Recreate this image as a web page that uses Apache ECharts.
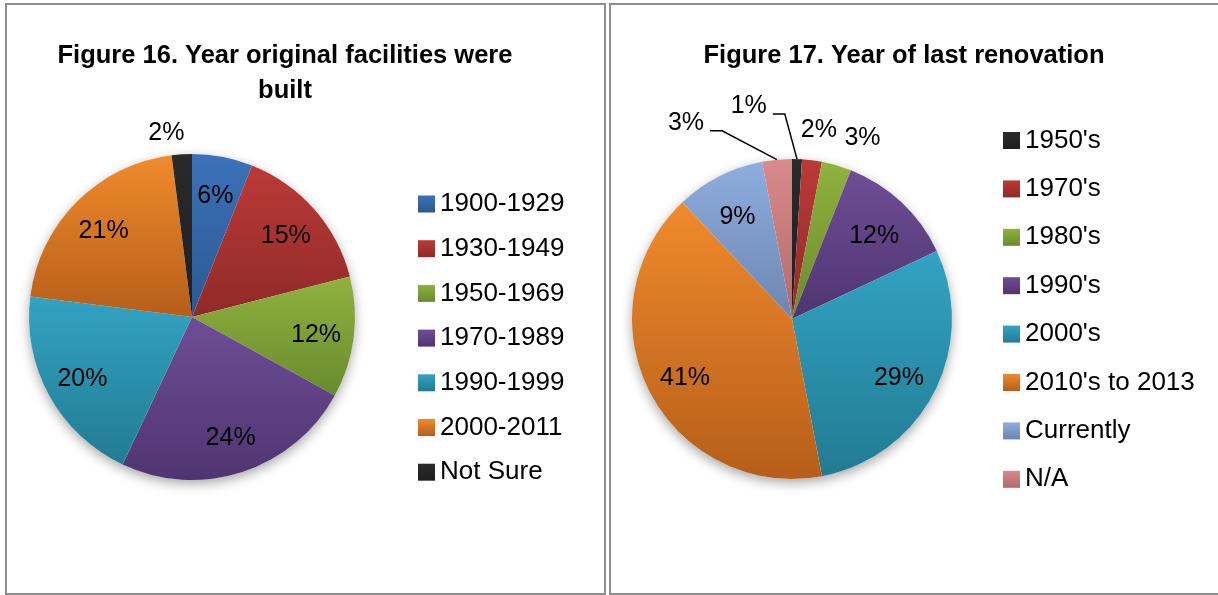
<!DOCTYPE html>
<html>
<head>
<meta charset="utf-8">
<script src="https://cdn.jsdelivr.net/npm/echarts@6/dist/echarts.min.js"></script>
<style>
  html, body { margin:0; padding:0; background:#fff; overflow:hidden; width:1218px; height:595px; }
  .panel { position:absolute; top:3px; height:588px; border:2px solid #8e8e8e; background:#fff; }
  #left { left:5px; width:597px; }
  #right { left:609px; width:620px; }
</style>
</head>
<body>
<div id="left" class="panel"></div>
<div id="right" class="panel"></div>
<script>
// Figure 16 data
const builtCategories = ['1900-1929', '1930-1949', '1950-1969', '1970-1989', '1990-1999', '2000-2011', 'Not Sure'];
const builtValues = [6, 15, 12, 24, 20, 21, 2];

// Figure 17 data
const renoCategories = ["1950's", "1970's", "1980's", "1990's", "2000's", "2010's to 2013", 'Currently', 'N/A'];
const renoValues = [1, 2, 3, 12, 29, 41, 9, 3];

// top / bottom colours of the excel-like gradient
const builtColors = [
    ['#3b72b9', '#2b5891'],
    ['#bb3a37', '#8f2a28'],
    ['#8fb23f', '#6a8a2d'],
    ['#6e4d97', '#4f3570'],
    ['#32a3c2', '#227b93'],
    ['#f08a2c', '#b65e1a'],
    ['#2a2a2a', '#1f1f1f']
];
const renoColors = [
    ['#2a2a2a', '#1f1f1f'],
    ['#bb3a37', '#8f2a28'],
    ['#8fb23f', '#6a8a2d'],
    ['#6e4d97', '#4f3570'],
    ['#32a3c2', '#227b93'],
    ['#f08a2c', '#b65e1a'],
    ['#8eaddf', '#6c86b0'],
    ['#d98a8a', '#b26a6a']
];

const FONT = 'Liberation Sans';

function grad(pair) {
    return new echarts.graphic.LinearGradient(0, 0, 0, 1, [
        { offset: 0, color: pair[0] },
        { offset: 1, color: pair[1] }
    ]);
}

const labelText = { fontFamily: FONT, fontSize: 25, color: '#000' };

function titleOpt(text, x) {
    return {
        text: text,
        left: x,
        top: 33,
        textAlign: 'center',
        padding: 0,
        textStyle: { fontFamily: FONT, fontWeight: 'bold', fontSize: 25.5, lineHeight: 35, color: '#000' }
    };
}

function legendOpt(names, x, y, gap) {
    return {
        orient: 'vertical',
        left: x,
        top: y,
        padding: 0,
        icon: 'rect',
        itemWidth: 17,
        itemHeight: 17,
        itemGap: gap,
        selectedMode: false,
        data: names,
        textStyle: { fontFamily: FONT, fontSize: 26, lineHeight: 26, color: '#000' }
    };
}

function shadowPie(center, r) {
    return {
        type: 'pie',
        silent: true,
        center: center,
        radius: r,
        z: 1,
        data: [{ value: 1 }],
        itemStyle: { color: '#fff', shadowBlur: 12, shadowOffsetY: 4, shadowColor: 'rgba(0,0,0,0.35)' },
        label: { show: false },
        labelLine: { show: false }
    };
}

// ---------- Figure 16 ----------
const leftCenter = [185, 312];
const leftR = 163;
const leftChart = echarts.init(document.getElementById('left'));
leftChart.setOption({
    animation: false,
    title: titleOpt('Figure 16. Year original facilities were\nbuilt', 278),
    legend: legendOpt(builtCategories, 411, 186, 18.7),
    series: [
        shadowPie(leftCenter, leftR),
        {
            type: 'pie',
            center: leftCenter,
            radius: leftR,
            startAngle: 90,
            avoidLabelOverlap: false,
            z: 2,
            data: builtCategories.map((name, i) => ({
                name: name,
                value: builtValues[i],
                itemStyle: { color: grad(builtColors[i]) },
                label: i === 6 ? { show: true, distanceToLabelLine: -4 } : { show: false },
                labelLine: i === 6 ? { show: false, length: 21, length2: 0 } : { show: false }
            })),
            label: Object.assign({ position: 'outside', formatter: '{c}%' }, labelText)
        },
        {
            // transparent ring only used to place the inside labels
            type: 'pie',
            silent: true,
            center: leftCenter,
            radius: [81, leftR],
            startAngle: 90,
            avoidLabelOverlap: false,
            z: 3,
            itemStyle: { color: 'rgba(0,0,0,0)' },
            data: builtCategories.map((name, i) => ({
                name: name,
                value: builtValues[i],
                label: { show: i !== 6 }
            })),
            label: Object.assign({ position: 'inside', formatter: '{c}%' }, labelText),
            labelLine: { show: false },
            labelLayout: { dy: 2 }
        }
    ]
});

// ---------- Figure 17 ----------
const rightCenter = [181, 314];
const rightR = 160;
const outsideCfg = {
    0: { label: { distanceToLabelLine: 5 }, labelLine: { show: true, length: 20, length2: 12 } },
    1: { label: { distanceToLabelLine: -15 }, labelLine: { show: false, length: 30, length2: 0 } },
    2: { label: { distanceToLabelLine: 0 }, labelLine: { show: false, length: 28, length2: 0 } },
    7: { label: { distanceToLabelLine: 5 }, labelLine: { show: true, length: 20, length2: 12 } }
};

// leader line: from the slice edge, diagonal to a short tick at the label's lower side
function leader(params, left, right, cy, side) {
    const start = params.labelLinePoints[0];
    const y = cy + 8;
    if (side > 0) {
        return [start, [right + 18, y], [right + 6, y]];
    }
    return [start, [left - 18, y], [left - 6, y]];
}

const rightChart = echarts.init(document.getElementById('right'));
rightChart.setOption({
    animation: false,
    title: titleOpt('Figure 17. Year of last renovation', 293),
    legend: legendOpt(renoCategories, 392, 122.5, 22.4),
    series: [
        shadowPie(rightCenter, rightR),
        {
            type: 'pie',
            center: rightCenter,
            radius: rightR,
            startAngle: 90,
            avoidLabelOverlap: false,
            z: 2,
            data: renoCategories.map((name, i) => {
                const cfg = outsideCfg[i];
                return {
                    name: name,
                    value: renoValues[i],
                    itemStyle: { color: grad(renoColors[i]) },
                    label: cfg ? Object.assign({ show: true }, cfg.label) : { show: false },
                    labelLine: cfg ? cfg.labelLine : { show: false }
                };
            }),
            label: Object.assign({ position: 'outside', formatter: '{c}%' }, labelText),
            labelLine: { lineStyle: { color: '#000', width: 1.5 } },
            // move the two leader-line labels aside like the original
            labelLayout: function (params) {
                const r = params.labelRect;
                if (params.dataIndex === 0) {
                    const left = r.x - 84, cy = r.y + r.height / 2 - 33;
                    return { x: left, y: cy, labelLinePoints: leader(params, left, left + r.width, cy, 1) };
                }
                if (params.dataIndex === 7) {
                    const right = r.x + r.width - 54, cy = r.y + r.height / 2 - 17;
                    return { x: right, y: cy, labelLinePoints: leader(params, right - r.width, right, cy, 1) };
                }
                return {};
            }
        },
        {
            type: 'pie',
            silent: true,
            center: rightCenter,
            radius: [74, rightR],
            startAngle: 90,
            avoidLabelOverlap: false,
            z: 3,
            itemStyle: { color: 'rgba(0,0,0,0)' },
            data: renoCategories.map((name, i) => ({
                name: name,
                value: renoValues[i],
                label: { show: i >= 3 && i <= 6 }
            })),
            label: Object.assign({ position: 'inside', formatter: '{c}%' }, labelText),
            labelLine: { show: false },
            labelLayout: { dy: 5 }
        }
    ]
});
</script>
</body>
</html>
